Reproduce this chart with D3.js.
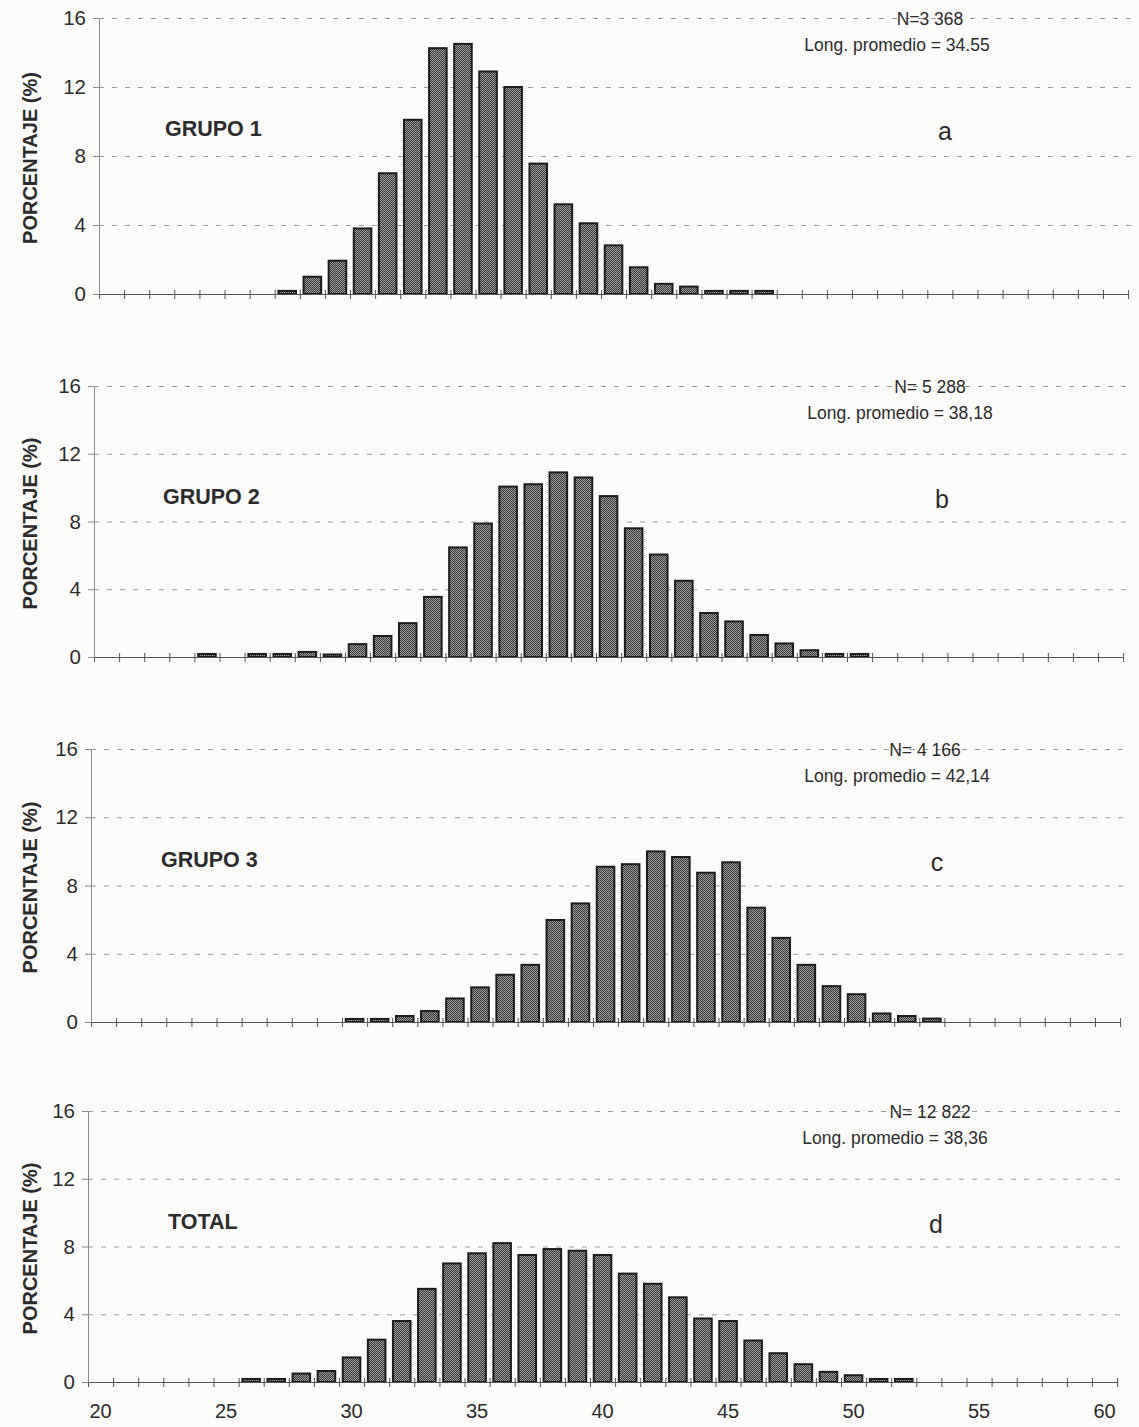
<!DOCTYPE html>
<html>
<head>
<meta charset="utf-8">
<script src="https://cdn.jsdelivr.net/npm/d3@7/dist/d3.min.js"></script>
<style>
body{margin:0;background:#fbfbfa;}
svg{display:block;font-family:"Liberation Sans",Arial,sans-serif;}
</style>
</head>
<body>
<svg width="1139" height="1427"></svg>
<script>
// length classes (cm) on the shared category axis
const lengthClasses = [20,21,22,23,24,25,26,27,28,29,30,31,32,33,34,35,36,37,38,39,40,
                       41,42,43,44,45,46,47,48,49,50,51,52,53,54,55,56,57,58,59,60];
const xTickLabels = [20,25,30,35,40,45,50,55,60];
const yTicks = [0,4,8,12,16];

// GRUPO 1
const g1Len = [27,28,29,30,31,32,33,34,35,36,37,38,39,40,41,42,43,44,45,46];
const g1Pct = [0.18,1.0,1.93,3.8,7.0,10.1,14.25,14.5,12.9,12.0,7.56,5.2,4.1,2.82,1.55,0.59,0.43,0.18,0.18,0.18];
// GRUPO 2
const g2Len = [24,26,27,28,29,30,31,32,33,34,35,36,37,38,39,40,41,42,43,44,45,46,47,48,49,50];
const g2Pct = [0.18,0.18,0.18,0.3,0.15,0.76,1.24,2.0,3.55,6.47,7.88,10.06,10.2,10.9,10.6,9.5,7.6,6.05,4.5,2.6,2.1,1.3,0.8,0.4,0.18,0.18];
// GRUPO 3
const g3Len = [30,31,32,33,34,35,36,37,38,39,40,41,42,43,44,45,46,47,48,49,50,51,52,53];
const g3Pct = [0.18,0.18,0.35,0.64,1.38,2.03,2.77,3.35,5.98,6.95,9.1,9.25,10.0,9.67,8.75,9.36,6.7,4.93,3.35,2.1,1.63,0.5,0.35,0.2];
// TOTAL
const totLen = [26,27,28,29,30,31,32,33,34,35,36,37,38,39,40,41,42,43,44,45,46,47,48,49,50,51,52];
const totPct = [0.18,0.18,0.5,0.65,1.45,2.5,3.6,5.5,7.0,7.6,8.2,7.5,7.85,7.75,7.5,6.4,5.8,5.0,3.75,3.6,2.45,1.7,1.05,0.6,0.4,0.18,0.18];

const panelTitles = ["GRUPO 1","GRUPO 2","GRUPO 3","TOTAL"];
const panelLetters = ["a","b","c","d"];
const panelN = ["N=3 368","N= 5 288","N= 4 166","N= 12 822"];
const panelMean = ["Long. promedio = 34.55","Long. promedio = 38,18","Long. promedio = 42,14","Long. promedio = 38,36"];

const series = [
  {len: g1Len, pct: g1Pct},
  {len: g2Len, pct: g2Pct},
  {len: g3Len, pct: g3Pct},
  {len: totLen, pct: totPct}
];

const svg = d3.select('svg');
const ink = '#2b2b2b';

// stippled fill like the scanned bars
const defs = svg.append('defs');
const pat = defs.append('pattern').attr('id','stip')
  .attr('width',2).attr('height',2).attr('patternUnits','userSpaceOnUse');
pat.append('rect').attr('width',2).attr('height',2).attr('fill','#9c9c9c');
pat.append('rect').attr('width',1).attr('height',1).attr('fill','#383838');
pat.append('rect').attr('x',1).attr('y',1).attr('width',1).attr('height',1).attr('fill','#383838');

// panel placement (scan is slightly shifted from panel to panel)
const tops = [18, 386, 749, 1111];
const bottoms = [294, 657, 1022, 1382];
const lefts = [99, 94, 91, 88];
const step = 25.1;
const titleX = [165, 163, 161, 168];
const letterX = [945, 942, 937, 936];
const nX = [930, 930, 925, 930];
const meanX = [897, 900, 897, 895];

series.forEach((s, i) => {
  const innerW = step * lengthClasses.length;
  const innerH = bottoms[i] - tops[i];
  const g = svg.append('g').attr('transform', `translate(${lefts[i]},${tops[i]})`);

  const x = d3.scaleBand().domain(lengthClasses).range([0, innerW])
    .paddingInner(0.3).paddingOuter(0.15);
  const xEdge = d3.scaleLinear().domain([20, 61]).range([0, innerW]);
  const y = d3.scaleLinear().domain([0, 16]).range([innerH, 0]);

  // dashed gridlines
  const grid = g.append('g').call(d3.axisLeft(y).tickValues([4,8,12,16])
      .tickSize(-innerW - 6).tickFormat(''));
  grid.select('.domain').remove();
  grid.selectAll('.tick line').attr('stroke','#9a9a9a').attr('stroke-dasharray','5,8');

  // bars
  const data = s.len.map((l, k) => ({len: l, pct: s.pct[k]}));
  g.selectAll('rect.bar').data(data).enter().append('rect')
    .attr('class','bar')
    .attr('x', d => x(d.len))
    .attr('width', x.bandwidth())
    .attr('y', d => y(d.pct))
    .attr('height', d => innerH - y(d.pct))
    .attr('fill','url(#stip)')
    .attr('stroke','#1c1c1c')
    .attr('stroke-width',2);

  // x axis with crossing ticks at class boundaries
  const xa = g.append('g').attr('transform', `translate(0,${innerH})`)
    .call(d3.axisBottom(xEdge).tickValues(d3.range(20, 62)).tickSize(5)
      .tickSizeOuter(0).tickFormat(''));
  xa.select('.domain').attr('stroke','#555');
  xa.selectAll('.tick line').attr('y1',-4).attr('stroke','#555');

  if (i === 3) {
    const xl = g.append('g').attr('transform', `translate(0,${innerH})`)
      .call(d3.axisBottom(x).tickValues(xTickLabels).tickSize(0).tickPadding(22));
    xl.select('.domain').remove();
    xl.selectAll('text').attr('font-size',20).attr('fill',ink)
      .attr('font-family','"Liberation Sans",Arial,sans-serif');
  }

  // y axis
  const ya = g.append('g').call(d3.axisLeft(y).tickValues(yTicks).tickSize(6)
      .tickPadding(7).tickSizeOuter(0));
  ya.select('.domain').attr('stroke','#8a8a8a');
  ya.selectAll('.tick line').attr('stroke','#8a8a8a');
  ya.selectAll('text').attr('font-size',20.5).attr('fill',ink)
    .attr('font-family','"Liberation Sans",Arial,sans-serif');

  // y title
  svg.append('text')
    .attr('transform', `translate(37,${(tops[i] + bottoms[i]) / 2 + 2}) rotate(-90)`)
    .attr('text-anchor','middle')
    .attr('font-size',20).attr('font-weight','bold').attr('fill',ink)
    .text('PORCENTAJE (%)');

  // annotations
  svg.append('text').attr('x', titleX[i]).attr('y', tops[i] + 118)
    .attr('font-size',21.5).attr('font-weight','bold').attr('fill',ink)
    .text(panelTitles[i]);
  svg.append('text').attr('x', nX[i]).attr('y', tops[i] + 7)
    .attr('text-anchor','middle').attr('font-size',17.5).attr('fill',ink)
    .text(panelN[i]);
  svg.append('text').attr('x', meanX[i]).attr('y', tops[i] + 33)
    .attr('text-anchor','middle').attr('font-size',17.5).attr('fill',ink)
    .text(panelMean[i]);
  svg.append('text').attr('x', letterX[i]).attr('y', tops[i] + 122)
    .attr('text-anchor','middle').attr('font-size',25).attr('fill',ink)
    .text(panelLetters[i]);
});
</script>
</body>
</html>
